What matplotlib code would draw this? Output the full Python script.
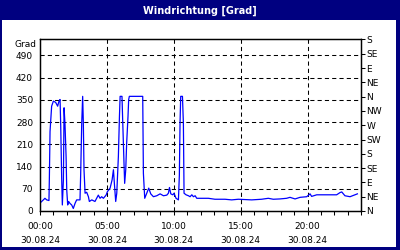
import matplotlib
matplotlib.use("Agg")
import matplotlib.pyplot as plt
from matplotlib.patches import Rectangle

# wind direction over the day (hours since 00:00, degrees)
hours = [0.05, 0.25, 0.37, 0.5, 0.67, 0.70, 0.75, 0.87, 1.0, 1.17, 1.32, 1.42, 1.50,
         1.55, 1.62, 1.67, 1.75, 1.80, 1.87, 1.95, 2.0, 2.07, 2.14, 2.24, 2.37, 2.49,
         2.62, 2.74, 2.99, 3.04, 3.12, 3.19, 3.24, 3.29, 3.37, 3.49, 3.62, 3.69, 3.87,
         4.11, 4.36, 4.49, 4.61, 4.74, 4.94, 5.04, 5.24, 5.39, 5.49, 5.56, 5.66, 5.74,
         5.86, 5.94, 5.99, 6.13, 6.18, 6.28, 6.33, 6.41, 6.48, 6.58, 6.63, 6.68, 7.68,
         7.73, 7.83, 7.98, 8.13, 8.28, 8.48, 8.73, 8.98, 9.23, 9.48, 9.60, 9.68, 9.78,
         9.93, 10.02, 10.17, 10.35, 10.42, 10.47, 10.52, 10.65, 10.72, 10.77, 10.92,
         11.10, 11.22, 11.35, 11.47, 11.60, 11.72, 11.87, 12.59, 13.08, 13.83, 14.33,
         14.83, 15.83, 16.57, 17.07, 17.44, 17.94, 18.44, 18.69, 19.07, 19.44, 19.94,
         20.19, 20.31, 20.69, 21.18, 21.68, 22.18, 22.43, 22.56, 22.80, 23.18, 23.55,
         23.73]
grad = [27, 35, 40, 35, 33, 103, 250, 330, 346, 342, 330, 346, 351,
        267, 103, 19, 98, 325, 272, 172, 66, 19, 30, 24, 19, 8,
        24, 35, 35, 114, 277, 361, 277, 130, 56, 59, 45, 30, 35,
        30, 50, 40, 45, 40, 50, 61, 72, 98, 130, 87, 30, 56,
        172, 298, 361, 361, 288, 151, 87, 130, 214, 298, 351, 361, 361,
        119, 40, 56, 72, 54, 45, 48, 54, 48, 50, 56, 74, 54,
        51, 56, 40, 35, 114, 277, 361, 361, 277, 56, 51,
        48, 45, 51, 45, 48, 40, 40, 40, 37, 37, 35,
        37, 35, 37, 40, 37, 38, 40, 43, 38, 43, 45,
        54, 46, 51, 51, 51, 51, 58, 60, 48, 45, 51,
        54]

left_ticks = [0, 70, 140, 210, 280, 350, 420, 490]
dir_ticks = [0, 45, 90, 135, 180, 225, 270, 315, 360, 405, 450, 495, 540]
dir_labels = ["N", "NE", "E", "SE", "S", "SW", "W", "NW", "N", "NE", "E", "SE", "S"]
x_ticks = [0, 5, 10, 15, 20]
x_labels = ["00:00\n30.08.24", "05:00\n30.08.24", "10:00\n30.08.24",
            "15:00\n30.08.24", "20:00\n30.08.24"]

plt.rcParams['font.family'] = ['DejaVu Sans']
fs = 6.5

fig = plt.figure(figsize=(4, 2.5), dpi=100)
fig.patch.set_facecolor('#000080')
fig.patches.append(Rectangle((2 / 400, 3 / 250), 394 / 400, 227 / 250,
                             transform=fig.transFigure, facecolor='white',
                             edgecolor='none', zorder=-10))
fig.text(0.5, 1 - 10.5 / 250, "Windrichtung [Grad]", color='white', fontsize=7,
         fontweight='bold', ha='center', va='center')

ax = fig.add_axes([40 / 400, 1 - 211 / 250, 321 / 400, 171.5 / 250])
ax.set_facecolor('white')
ax.plot(hours, grad, color='#0000ff', lw=0.9, zorder=3)
ax.set_xlim(0, 24)
ax.set_ylim(0, 540)

# dashed grid, 1 px wide
grid_style = dict(color='black', lw=0.75, ls=(0, (4, 3)))
for y in left_ticks[1:]:
    ax.axhline(y, **grid_style, zorder=1)
for x in x_ticks[1:]:
    ax.axvline(x, **grid_style, zorder=1)

ax.set_yticks(left_ticks)
ax.set_yticklabels([str(v) for v in left_ticks], fontsize=fs)
ax.tick_params(axis='y', length=0, pad=5)
ax.set_xticks(x_ticks)
ax.set_xticklabels(x_labels, fontsize=fs, linespacing=1.75)
ax.set_xticks(range(0, 25), minor=True)
ax.tick_params(axis='x', which='both', direction='out', length=3, width=0.75, pad=5)
ax.text(-0.01, 0.97, "Grad", transform=ax.transAxes, fontsize=fs,
        ha='right', va='center')

ax2 = ax.twinx()
ax2.set_ylim(0, 540)
ax2.set_yticks(dir_ticks)
ax2.set_yticklabels(dir_labels, fontsize=fs)
ax2.tick_params(axis='y', direction='out', length=3, width=0.75, pad=1)

for a in (ax, ax2):
    for s in a.spines.values():
        s.set_linewidth(0.9)
        s.set_color('black')

fig.savefig("out.png", dpi=100, facecolor=fig.get_facecolor())
